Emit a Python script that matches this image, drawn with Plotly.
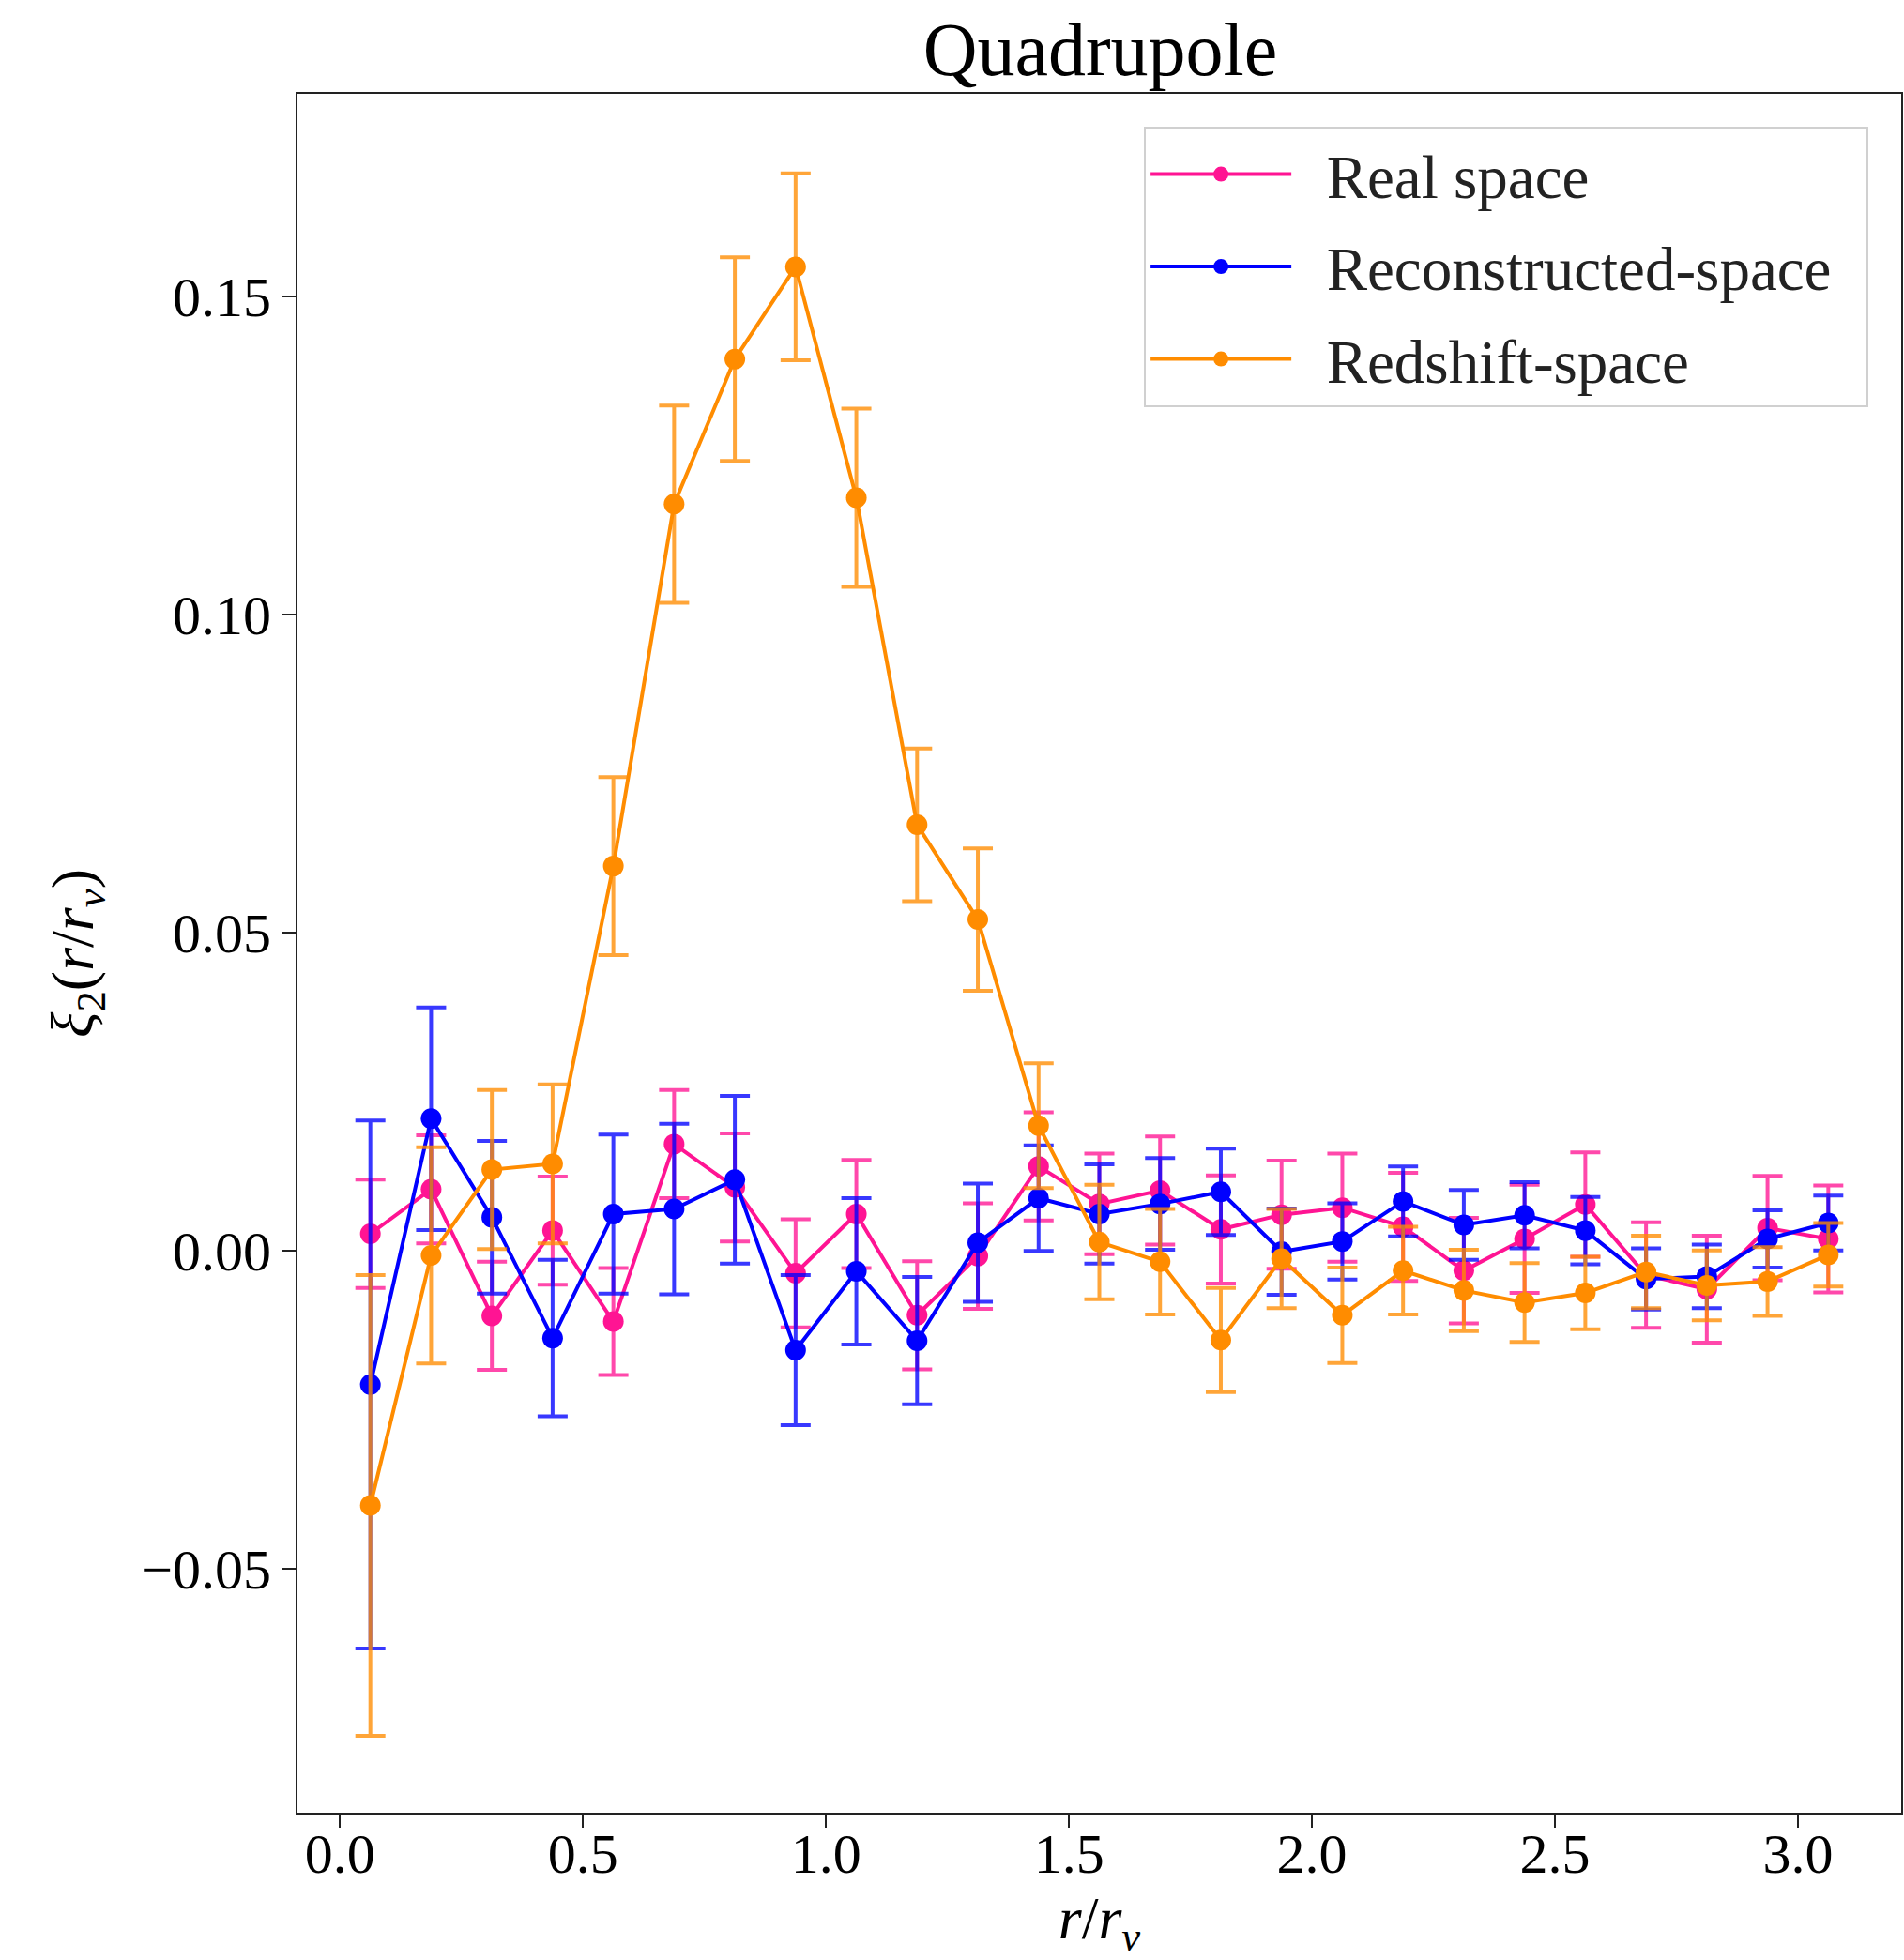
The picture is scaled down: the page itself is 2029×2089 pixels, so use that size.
import plotly.graph_objects as go

# bin centres r/r_v
r = [0.0625 + 0.125 * i for i in range(25)]

real_y = [0.0027, 0.0097, -0.0102, 0.0032, -0.0111, 0.0168, 0.0100, -0.0035, 0.0058, -0.0101,
          -0.0008, 0.0133, 0.0074, 0.0095, 0.0034, 0.0057, 0.0068, 0.0038, -0.0031, 0.0019,
          0.0073, -0.0038, -0.0060, 0.0036, 0.0019]
real_err = [0.0085, 0.0085, 0.0085, 0.0085, 0.0084, 0.0085, 0.0085, 0.0085, 0.0085, 0.0085,
            0.0083, 0.0085, 0.0079, 0.0085, 0.0085, 0.0085, 0.0085, 0.0085, 0.0083, 0.0085,
            0.0082, 0.0083, 0.0084, 0.0082, 0.0084]

recon_y = [-0.0210, 0.0208, 0.0053, -0.0137, 0.0058, 0.0066, 0.0112, -0.0156, -0.0032, -0.0141,
           0.0013, 0.0083, 0.0058, 0.0074, 0.0093, -0.0001, 0.0015, 0.0078, 0.0041, 0.0056,
           0.0032, -0.0044, -0.0040, 0.0019, 0.0044]
recon_err = [0.0415, 0.0175, 0.0120, 0.0123, 0.0125, 0.0134, 0.0132, 0.0118, 0.0115, 0.0100,
             0.0093, 0.0083, 0.0078, 0.0072, 0.0068, 0.0068, 0.0060, 0.0055, 0.0055, 0.0052,
             0.0053, 0.0048, 0.0050, 0.0045, 0.0043]

red_y = [-0.0400, -0.0007, 0.0128, 0.0137, 0.0605, 0.1174, 0.1402, 0.1547, 0.1184, 0.0670,
         0.0521, 0.0197, 0.0014, -0.0017, -0.0140, -0.0012, -0.0101, -0.0031, -0.0062, -0.0081,
         -0.0066, -0.0033, -0.0054, -0.0048, -0.0006]
red_err = [0.0362, 0.0170, 0.0125, 0.0125, 0.0140, 0.0155, 0.0160, 0.0147, 0.0140, 0.0120,
           0.0112, 0.0098, 0.0090, 0.0083, 0.0082, 0.0078, 0.0075, 0.0069, 0.0064, 0.0062,
           0.0057, 0.0057, 0.0055, 0.0054, 0.0050]

series = [
    ("Real space", real_y, real_err, "#FF1493", "rgba(255,20,147,0.78)"),
    ("Reconstructed-space", recon_y, recon_err, "#0000FF", "rgba(0,0,255,0.78)"),
    ("Redshift-space", red_y, red_err, "#FF8C00", "rgba(255,140,0,0.78)"),
]

FONT = "Liberation Serif"
GAP = "\u2002"

fig = go.Figure()
for name, y, e, col, ecol in series:
    fig.add_trace(go.Scatter(
        x=r, y=y, name=GAP + name + GAP, mode="lines+markers", legendgroup=name,
        line=dict(color=col, width=4),
        marker=dict(color=col, size=22),
        error_y=dict(type="data", array=e, visible=True, color=ecol,
                     thickness=4, width=16),
    ))

fig.update_layout(
    width=2029, height=2089,
    margin=dict(l=317, r=1, t=100, b=157),
    paper_bgcolor="white", plot_bgcolor="white",
    font=dict(family=FONT, size=62, color="black"),
    title=dict(text="Quadrupole", x=(317 + 2028) / 2 / 2029, xanchor="center",
               y=1 - 52 / 2089, yanchor="middle",
               font=dict(family=FONT, size=80, color="black")),
    showlegend=True,
    legend=dict(x=0.9796, y=0.981, xanchor="right", yanchor="top",
                bgcolor="white", bordercolor="#d0d0d0", borderwidth=2,
                font=dict(family=FONT, size=65, color="#222"),
                tracegroupgap=11, itemwidth=150),
)

fig.update_xaxes(
    range=[-0.0875, 3.2125], tickvals=[0, 0.5, 1.0, 1.5, 2.0, 2.5, 3.0], tickformat=".1f",
    showline=True, linecolor="#222", linewidth=2, mirror=True,
    ticks="outside", ticklen=14, tickwidth=2, tickcolor="#222",
    showgrid=False, zeroline=False, ticklabelstandoff=-24,
    tickfont=dict(family=FONT, size=60),
    title=dict(text="<i>r</i>/<i>r</i><sub><i>v</i></sub>", standoff=16,
               font=dict(family=FONT, size=64)),
)
fig.update_yaxes(
    range=[-0.0883, 0.1819], tickvals=[-0.05, 0.0, 0.05, 0.10, 0.15], tickformat=".2f",
    showline=True, linecolor="#222", linewidth=2, mirror=True,
    ticks="outside", ticklen=14, tickwidth=2, tickcolor="#222",
    showgrid=False, zeroline=False,
    tickfont=dict(family=FONT, size=60),
    title=dict(text="<i>ξ</i><sub>2</sub>(<i>r</i>/<i>r</i><sub><i>v</i></sub>)", standoff=30,
               font=dict(family=FONT, size=64)),
)

fig.write_html("out.html")
